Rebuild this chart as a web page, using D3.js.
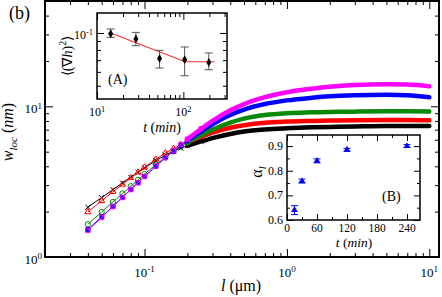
<!DOCTYPE html>
<html>
<head>
<meta charset="utf-8">
<script src="https://cdn.jsdelivr.net/npm/d3@7"></script>
<style>
  body { margin: 0; background: #fff; }
  svg { display: block; }
</style>
</head>
<body>
<svg id="chart" width="442" height="297"></svg>
<script>
// main panel: local width vs window size, one curve per growth time
const lengths = [0.04, 0.05, 0.06, 0.07, 0.08, 0.09, 0.1, 0.12, 0.14, 0.16, 0.18, 0.2, 0.25, 0.3, 0.4, 0.5, 0.7, 1, 1.5, 2, 3, 5, 7, 10];
const wBlack   = [2.14, 2.48, 2.80, 3.10, 3.38, 3.64, 3.90, 4.35, 4.75, 5.05, 5.28, 5.48, 5.85, 6.15, 6.55, 6.80, 7.02, 7.15, 7.25, 7.30, 7.35, 7.40, 7.40, 7.40];
const wRed     = [1.99, 2.36, 2.71, 3.03, 3.35, 3.65, 3.94, 4.45, 4.90, 5.25, 5.55, 5.80, 6.30, 6.70, 7.20, 7.48, 7.78, 7.92, 8.00, 8.05, 8.08, 8.10, 8.10, 8.07];
const wGreen   = [1.65, 1.99, 2.32, 2.64, 2.95, 3.25, 3.55, 4.10, 4.60, 5.03, 5.40, 5.75, 6.45, 7.00, 7.80, 8.28, 8.75, 9.00, 9.12, 9.18, 9.22, 9.26, 9.27, 9.25];
const wBlue    = [1.52, 1.85, 2.17, 2.49, 2.81, 3.12, 3.42, 4.00, 4.55, 5.03, 5.48, 5.90, 6.85, 7.60, 8.75, 9.50, 10.35, 10.95, 11.40, 11.65, 11.85, 11.95, 11.85, 11.50];
const wMagenta = [1.50, 1.83, 2.16, 2.48, 2.80, 3.11, 3.42, 4.02, 4.58, 5.08, 5.58, 6.05, 7.10, 8.00, 9.40, 10.35, 11.50, 12.40, 13.10, 13.50, 13.85, 14.00, 13.95, 13.60];

// inset A: mean squared slope vs time
const slopeT  = [14.4, 28.2, 53, 103.5, 197];
const slopeV  = [0.099, 0.0924, 0.0716, 0.0704, 0.068];
const slopeLo = [0.0944, 0.0846, 0.0631, 0.0570, 0.0617];
const slopeHi = [0.1054, 0.1008, 0.0796, 0.0832, 0.0769];
const fitT = [14.4, 105, 230];
const fitV = [0.1, 0.0685, 0.0685];

// inset B: local roughness exponent vs time
const alphaT   = [15, 30, 60, 120, 240];
const alphaV   = [0.64, 0.758, 0.84, 0.885, 0.90];
const alphaErr = [0.018, 0.008, 0.008, 0.006, 0.006];

const series = [
  { w: wBlack,   color: '#000000', sym: d3.symbolTimes,     size: 18, fill: 'none' },
  { w: wRed,     color: '#ff0000', sym: d3.symbolTriangle2, size: 26, fill: 'none' },
  { w: wGreen,   color: '#0a8a0a', sym: d3.symbolCircle,    size: 22, fill: 'none' },
  { w: wBlue,    color: '#0000ff', sym: d3.symbolSquare,    size: 16, fill: '#0000ff' },
  { w: wMagenta, color: '#ff00ff', sym: d3.symbolSquare2,   size: 24, fill: 'none' }
];

const FONT = 'Liberation Serif';
const svg = d3.select('#chart');

function pow10(sel, e) {
  sel.append('tspan').text('10');
  sel.append('tspan').attr('dy', '-0.5em').attr('font-size', '0.7em').text(e);
}

// inward ticks on all four sides, frame drawn separately
function frame(g, x, y, o) {
  const [x0, x1] = x.range();
  const [y0, y1] = y.range();
  const tick = (axis, vals, size, tx, ty) => g.append('g')
    .attr('transform', `translate(${tx},${ty})`)
    .call(axis.tickValues(vals).tickSize(-size).tickSizeOuter(0).tickFormat(''))
    .call(s => s.select('.domain').remove())
    .call(s => s.selectAll('line').attr('stroke', '#000').attr('stroke-width', 1));
  tick(d3.axisBottom(x), o.xMajor, o.big, 0, y0);
  tick(d3.axisBottom(x), o.xMinor, o.small, 0, y0);
  tick(d3.axisTop(x), o.xMajor, o.big, 0, y1);
  tick(d3.axisTop(x), o.xMinor, o.small, 0, y1);
  tick(d3.axisLeft(y), o.yMajor, o.big, x0, 0);
  tick(d3.axisLeft(y), o.yMinor, o.small, x0, 0);
  tick(d3.axisRight(y), o.yMajor, o.big, x1, 0);
  tick(d3.axisRight(y), o.yMinor, o.small, x1, 0);
  g.append('rect')
    .attr('x', x0).attr('y', y1).attr('width', x1 - x0).attr('height', y0 - y1)
    .attr('fill', 'none').attr('stroke', '#000').attr('stroke-width', o.stroke);
}

const isPow = v => Math.abs(Math.log10(v) - Math.round(Math.log10(v))) < 1e-9;

// ---------- main panel ----------
const x = d3.scaleLog().domain([0.02, 11.7]).range([45, 439]);
const y = d3.scaleLog().domain([1, 50]).range([257, 1]);

const main = svg.append('g');
const line = d3.line().x(d => x(d[0])).y(d => y(d[1]));
const band = d3.line().curve(d3.curveMonotoneX).x(d => x(d[0])).y(d => y(d[1]));

series.forEach(s => {
  const pts = lengths.map((l, i) => [l, s.w[i]]);
  main.append('path')
    .attr('d', band(pts.filter(p => p[0] >= 0.2)))
    .attr('fill', 'none').attr('stroke', s.color)
    .attr('stroke-width', 4.5).attr('stroke-linecap', 'round');
  main.append('path')
    .attr('d', line(pts))
    .attr('fill', 'none').attr('stroke', s.color).attr('stroke-width', 1);
  main.selectAll(null)
    .data(pts.filter(p => p[0] <= 0.25))
    .join('path')
    .attr('transform', p => `translate(${x(p[0])},${y(p[1])})`)
    .attr('d', d3.symbol(s.sym, s.size))
    .attr('fill', s.fill).attr('stroke', s.color).attr('stroke-width', 1);
});

const xTicks = x.ticks().filter(v => v <= 10);
const yTicks = y.ticks();
frame(main, x, y, {
  xMajor: xTicks.filter(isPow), xMinor: xTicks.filter(v => !isPow(v)),
  yMajor: yTicks.filter(isPow), yMinor: yTicks.filter(v => !isPow(v)),
  big: 8, small: 4, stroke: 2
});

main.selectAll(null).data([0.1, 1, 10]).join('text')
  .attr('x', d => x(d)).attr('y', 277)
  .attr('text-anchor', 'middle').attr('font-size', 13)
  .each(function(d) { pow10(d3.select(this), Math.round(Math.log10(d))); });
main.selectAll(null).data([1, 10]).join('text')
  .attr('x', 42).attr('y', d => y(d) + 7)
  .attr('text-anchor', 'end').attr('font-size', 13)
  .each(function(d) { pow10(d3.select(this), Math.round(Math.log10(d))); });

const xl = main.append('text').attr('x', 241).attr('y', 291)
  .attr('text-anchor', 'middle').attr('font-size', 16);
xl.append('tspan').attr('font-style', 'italic').text('l');
xl.append('tspan').text(' (\u03bcm)');

const yl = main.append('text')
  .attr('transform', 'translate(13,132) rotate(-90)')
  .attr('text-anchor', 'middle').attr('font-size', 16);
yl.append('tspan').attr('font-style', 'italic').text('w');
yl.append('tspan').attr('font-style', 'italic').attr('font-size', 11).attr('dy', 4).text('loc');
yl.append('tspan').attr('dy', -4).text(' (');
yl.append('tspan').attr('font-style', 'italic').text('nm');
yl.append('tspan').text(')');

main.append('text').attr('x', 9).attr('y', 19).attr('font-size', 18).text('(b)');

// ---------- inset A ----------
const xa = d3.scaleLog().domain([10, 320]).range([97, 227]);
const ya = d3.scaleLog().domain([0.042, 0.13]).range([99, 13]);
const ga = svg.append('g');
ga.append('rect').attr('x', 97).attr('y', 13).attr('width', 130).attr('height', 86).attr('fill', '#fff');

ga.append('path')
  .attr('d', d3.line().x(d => xa(d[0])).y(d => ya(d[1]))(fitT.map((t, i) => [t, fitV[i]])))
  .attr('fill', 'none').attr('stroke', '#ff3030').attr('stroke-width', 1.2);

slopeT.forEach((t, i) => {
  const cx = xa(t);
  const eb = ga.append('g').attr('stroke', '#555').attr('stroke-width', 1);
  eb.append('line').attr('x1', cx).attr('x2', cx).attr('y1', ya(slopeLo[i])).attr('y2', ya(slopeHi[i]));
  eb.append('line').attr('x1', cx - 4).attr('x2', cx + 4).attr('y1', ya(slopeLo[i])).attr('y2', ya(slopeLo[i]));
  eb.append('line').attr('x1', cx - 4).attr('x2', cx + 4).attr('y1', ya(slopeHi[i])).attr('y2', ya(slopeHi[i]));
  ga.append('path')
    .attr('transform', `translate(${cx},${ya(slopeV[i])})`)
    .attr('d', d3.symbol(d3.symbolDiamond, 22)).attr('fill', '#000');
});

const xaT = xa.ticks();
const yaT = ya.ticks();
frame(ga, xa, ya, {
  xMajor: xaT.filter(isPow), xMinor: xaT.filter(v => !isPow(v)),
  yMajor: yaT.filter(isPow), yMinor: yaT.filter(v => !isPow(v)),
  big: 7, small: 4, stroke: 1.5
});
ga.selectAll(null).data([10, 100]).join('text')
  .attr('x', d => xa(d)).attr('y', 116)
  .attr('text-anchor', 'middle').attr('font-size', 12)
  .each(function(d) { pow10(d3.select(this), Math.round(Math.log10(d))); });
ga.append('text').attr('x', 93).attr('y', ya(0.1) + 6)
  .attr('text-anchor', 'end').attr('font-size', 12)
  .call(s => pow10(s, '-1'));

const ta = ga.append('text').attr('x', 162).attr('y', 132)
  .attr('text-anchor', 'middle').attr('font-size', 14);
ta.append('tspan').attr('font-style', 'italic').text('t');
ta.append('tspan').text(' (');
ta.append('tspan').attr('font-style', 'italic').text('min');
ta.append('tspan').text(')');

const ylA = ga.append('text')
  .attr('transform', 'translate(72,56) rotate(-90)')
  .attr('text-anchor', 'middle').attr('font-size', 14);
ylA.append('tspan').text('\u27e8(\u2207');
ylA.append('tspan').attr('font-style', 'italic').text('h');
ylA.append('tspan').text(')');
ylA.append('tspan').attr('dy', -6).attr('font-size', 10).text('2');
ylA.append('tspan').attr('dy', 6).text('\u27e9');

ga.append('text').attr('x', 108).attr('y', 84).attr('font-size', 14).text('(A)');

// ---------- inset B ----------
const xb = d3.scaleLinear().domain([0, 266]).range([287, 420]);
const yb = d3.scaleLinear().domain([0.6, 0.945]).range([220, 135]);
const gb = svg.append('g');
gb.append('rect').attr('x', 287).attr('y', 135).attr('width', 133).attr('height', 85).attr('fill', '#fff');

alphaT.forEach((t, i) => {
  const cx = xb(t);
  const lo = yb(alphaV[i] - alphaErr[i]);
  const hi = yb(alphaV[i] + alphaErr[i]);
  const eb = gb.append('g').attr('stroke', '#0000ff').attr('stroke-width', 1);
  eb.append('line').attr('x1', cx).attr('x2', cx).attr('y1', lo).attr('y2', hi);
  eb.append('line').attr('x1', cx - 3.5).attr('x2', cx + 3.5).attr('y1', lo).attr('y2', lo);
  eb.append('line').attr('x1', cx - 3.5).attr('x2', cx + 3.5).attr('y1', hi).attr('y2', hi);
  gb.append('path')
    .attr('transform', `translate(${cx},${yb(alphaV[i])})`)
    .attr('d', d3.symbol(d3.symbolTriangle, 20)).attr('fill', '#0000ff');
});

frame(gb, xb, yb, {
  xMajor: [0, 60, 120, 180, 240], xMinor: [30, 90, 150, 210],
  yMajor: [0.6, 0.7, 0.8, 0.9], yMinor: [0.65, 0.75, 0.85],
  big: 6, small: 3, stroke: 1.5
});
gb.selectAll(null).data([0, 60, 120, 180, 240]).join('text')
  .attr('x', d => xb(d)).attr('y', 232)
  .attr('text-anchor', 'middle').attr('font-size', 11.5).text(d => d);
gb.selectAll(null).data([0.6, 0.7, 0.8, 0.9]).join('text')
  .attr('x', 283).attr('y', d => yb(d) + 4)
  .attr('text-anchor', 'end').attr('font-size', 12).text(d => d.toFixed(1));

const tb = gb.append('text').attr('x', 354).attr('y', 247)
  .attr('text-anchor', 'middle').attr('font-size', 13.5);
tb.append('tspan').attr('font-style', 'italic').text('t');
tb.append('tspan').text(' (');
tb.append('tspan').attr('font-style', 'italic').text('min');
tb.append('tspan').text(')');

const ylB = gb.append('text')
  .attr('transform', 'translate(262,172) rotate(-90)')
  .attr('text-anchor', 'middle').attr('font-size', 16);
ylB.append('tspan').text('\u03b1');
ylB.append('tspan').attr('font-style', 'italic').attr('font-size', 11).attr('dy', 4).text('l');

gb.append('text').attr('x', 382).attr('y', 201).attr('font-size', 14).text('(B)');

svg.selectAll('text').attr('font-family', FONT);
</script>
</body>
</html>
